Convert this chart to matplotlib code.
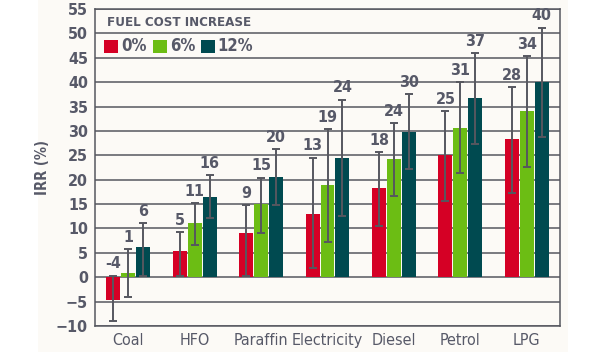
import numpy as np
import matplotlib
matplotlib.use('Agg')
import matplotlib.pyplot as plt
from matplotlib.patches import Rectangle

# data
fuels = ['Coal', 'HFO', 'Paraffin', 'Electricity', 'Diesel', 'Petrol', 'LPG']
series = ['0%', '6%', '12%']

irr_0 = [-4.6, 5.3, 9.0, 13.0, 18.2, 25.0, 28.3]
irr_6 = [0.8, 11.1, 15.0, 18.9, 24.2, 30.7, 34.0]
irr_12 = [6.2, 16.4, 20.5, 24.4, 29.7, 36.7, 40.0]

low_0 = [-9.0, 0.3, 0.3, 1.8, 10.6, 15.6, 17.2]
high_0 = [0.3, 9.2, 14.8, 24.5, 25.6, 34.0, 39.0]
low_6 = [-4.1, 6.6, 9.0, 7.2, 16.6, 21.3, 22.7]
high_6 = [5.7, 15.2, 20.4, 30.4, 31.6, 40.0, 45.3]
low_12 = [0.2, 12.1, 14.8, 12.5, 22.1, 27.3, 28.7]
high_12 = [11.1, 20.9, 26.3, 36.4, 37.5, 45.9, 51.2]

labels_0 = ['-4', '5', '9', '13', '18', '25', '28']
labels_6 = ['1', '11', '15', '19', '24', '31', '34']
labels_12 = ['6', '16', '20', '24', '30', '37', '40']

colors = ['#d50025', '#6cbd14', '#004a50']
grey = '#56575f'
textc = '#575968'
cream = '#fcfaf6'

plt.rcParams['font.family'] = ['DejaVu Sans']
plt.rcParams['font.stretch'] = 'condensed'
plt.rcParams['font.weight'] = 'bold'

fig = plt.figure(figsize=(6.15, 3.52), dpi=100)
fig.patches.append(Rectangle((38/615, 0), (568-38)/615, 1, transform=fig.transFigure,
                             facecolor=cream, edgecolor='none', zorder=-10))
ax = fig.add_axes([95/615, 1-326/352, 465/615, 317/352])
ax.set_facecolor(cream)

x = np.arange(len(fuels))
w = 0.21
step = 0.225
vals = [irr_0, irr_6, irr_12]
lows = [low_0, low_6, low_12]
highs = [high_0, high_6, high_12]
labs = [labels_0, labels_6, labels_12]

for i in range(3):
    xs = x + (i - 1) * step
    v = np.array(vals[i])
    lo = np.array(lows[i])
    hi = np.array(highs[i])
    ax.bar(xs, v, width=w, color=colors[i], zorder=3)
    ax.errorbar(xs, v, yerr=[v - lo, hi - v], fmt='none', ecolor=grey,
                elinewidth=1.4, capsize=3, capthick=1.4, zorder=4)
    for xi, h, t in zip(xs, hi, labs[i]):
        ax.text(xi, h + 0.9, t, ha='center', va='bottom', fontsize=11.5,
                color=textc)

ax.set_xlim(-0.5, 6.5)
ax.set_ylim(-10, 55)
ax.set_yticks(np.arange(-10, 56, 5))
ax.set_xticks(x)
ax.set_xticklabels(fuels, fontweight='normal', fontsize=11.5)
ax.yaxis.grid(True, color=grey, linewidth=1.1, zorder=0)
ax.set_axisbelow(True)
for s in ax.spines.values():
    s.set_color(grey)
    s.set_linewidth(1.1)
ax.tick_params(length=0, colors=textc, labelsize=11.5, pad=5)
ax.set_ylabel('IRR (%)', color=textc, fontsize=10.5, fontweight='bold', labelpad=4)

# legend drawn as text and squares
ax.text(0.025, 0.956, 'FUEL COST INCREASE', transform=ax.transAxes, fontsize=9.5,
        color=textc, va='center', ha='left')
lx = [0.02, 0.125, 0.228]
for i in range(3):
    ax.add_patch(Rectangle((lx[i], 0.861), 0.03, 0.042, transform=ax.transAxes,
                           facecolor=colors[i], edgecolor='none', zorder=5))
    ax.text(lx[i] + 0.036, 0.882, series[i], transform=ax.transAxes, fontsize=12,
            color=textc, va='center', ha='left', zorder=5)

fig.savefig('out.png', dpi=100)
